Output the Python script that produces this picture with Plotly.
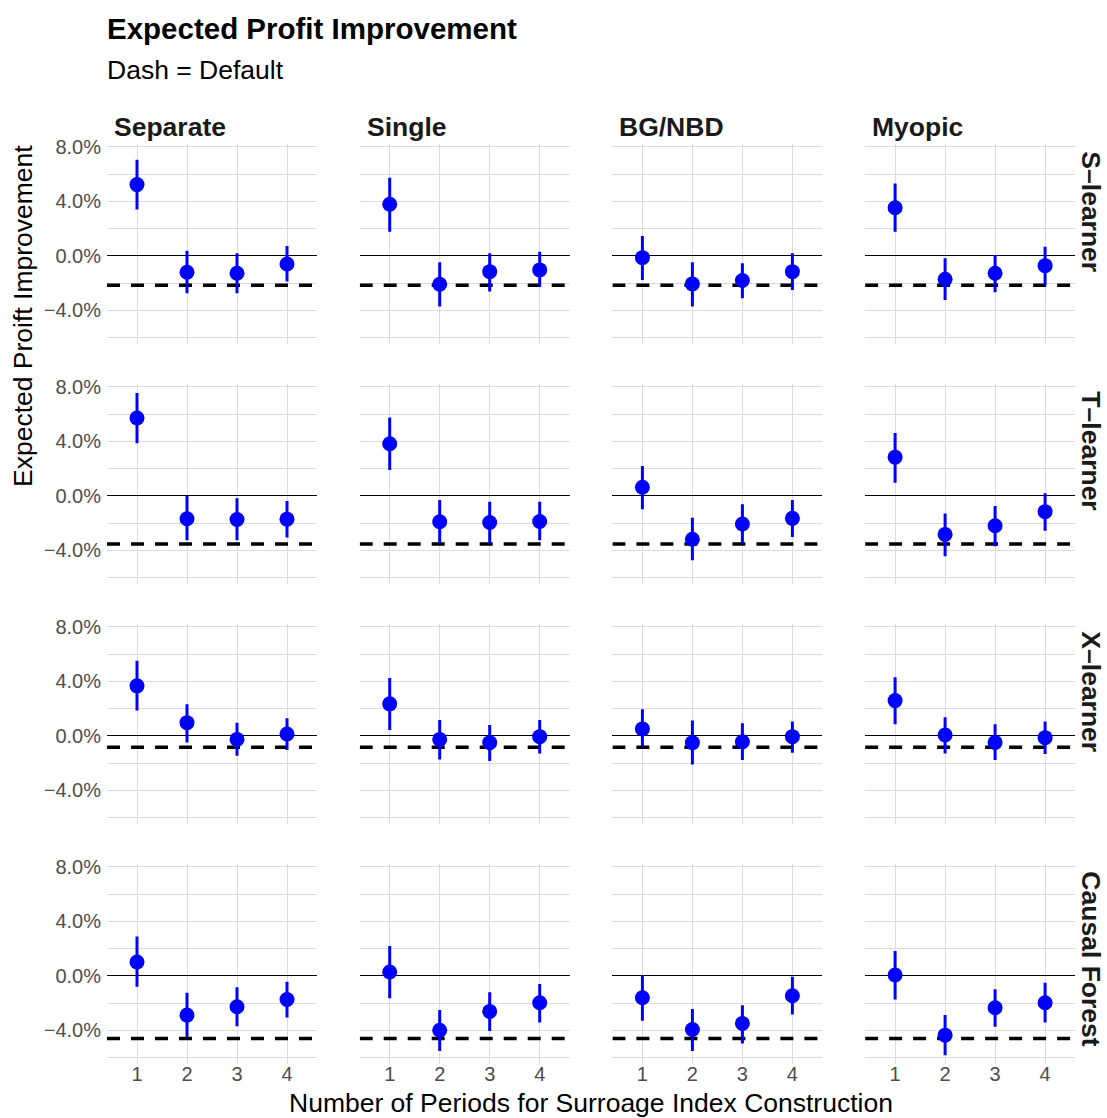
import plotly.graph_objects as go
from plotly.subplots import make_subplots

# ---- data (percent) ----
periods = [1, 2, 3, 4]
approaches = ["Separate", "Single", "BG/NBD", "Myopic"]
learners = ["S–learner", "T–learner", "X–learner", "Causal Forest"]

# point estimates, one list per approach (Separate, Single, BG/NBD, Myopic)
s_learner_est = [[5.24, -1.19, -1.27, -0.59], [3.80, -2.07, -1.15, -1.02],
                 [-0.12, -2.05, -1.80, -1.15], [3.54, -1.71, -1.27, -0.71]]
s_learner_lo = [[3.41, -2.73, -2.73, -1.88], [1.78, -3.71, -2.61, -2.24],
                [-1.76, -3.71, -3.10, -2.49], [1.78, -3.22, -2.66, -2.12]]
s_learner_hi = [[7.07, 0.39, 0.20, 0.73], [5.75, -0.46, 0.20, 0.32],
                [1.46, -0.46, -0.54, 0.20], [5.32, -0.17, 0.07, 0.68]]

t_learner_est = [[5.72, -1.67, -1.72, -1.70], [3.83, -1.89, -1.94, -1.87],
                 [0.64, -3.17, -2.06, -1.64], [2.85, -2.82, -2.18, -1.15]]
t_learner_lo = [[3.88, -3.24, -3.24, -3.04], [1.91, -3.44, -3.48, -3.24],
                [-0.98, -4.71, -3.48, -3.00], [0.98, -4.42, -3.68, -2.55]]
t_learner_hi = [[7.56, 0.00, -0.17, -0.37], [5.77, -0.29, -0.42, -0.42],
                [2.21, -1.60, -0.61, -0.29], [4.62, -1.28, -0.74, 0.20]]

x_learner_est = [[3.68, 0.98, -0.25, 0.15], [2.36, -0.25, -0.49, -0.05],
                 [0.52, -0.49, -0.42, -0.05], [2.60, 0.07, -0.47, -0.12]]
x_learner_lo = [[1.87, -0.47, -1.45, -1.03], [0.44, -1.72, -1.84, -1.28],
                [-0.79, -2.09, -1.77, -1.23], [0.86, -1.28, -1.77, -1.33]]
x_learner_hi = [[5.52, 2.33, 0.98, 1.30], [4.25, 1.18, 0.81, 1.18],
                [1.96, 1.13, 0.93, 1.06], [4.32, 1.37, 0.86, 1.06]]

causal_forest_est = [[1.03, -2.87, -2.26, -1.72], [0.29, -3.98, -2.60, -1.96],
                     [-1.60, -3.93, -3.48, -1.45], [0.07, -4.34, -2.33, -1.96]]
causal_forest_lo = [[-0.79, -4.47, -3.68, -3.04], [-1.64, -5.50, -4.03, -3.41],
                    [-3.29, -5.50, -4.96, -2.82], [-1.72, -5.82, -3.73, -3.41]]
causal_forest_hi = [[2.90, -1.23, -0.83, -0.42], [2.21, -2.50, -1.20, -0.59],
                    [0.07, -2.43, -2.14, -0.05], [1.84, -2.87, -0.98, -0.49]]

# default-policy improvement per learner (dashed reference)
default_improvement = [-2.15, -3.53, -0.83, -4.58]

y_tickvals = [-4, 0, 4, 8]
y_ticktext = ["−4.0%", "0.0%", "4.0%", "8.0%"]
y_minor = [-6, -2, 2, 6]

estimates = [s_learner_est, t_learner_est, x_learner_est, causal_forest_est]
lowers = [s_learner_lo, t_learner_lo, x_learner_lo, causal_forest_lo]
uppers = [s_learner_hi, t_learner_hi, x_learner_hi, causal_forest_hi]

# ---- layout geometry (pixels) ----
W, H = 1107, 1118
FONT = "Liberation Sans, Arial, sans-serif"
X_RANGE = [0.4, 4.6]
Y_LO, Y_HI = -6.49, 8.23
PX_PER_PCT = 13.625
PANEL_W = 210
COL_X0 = [107 + 252.7 * c for c in range(4)]
ROW_ZERO = [256 + 240 * r for r in range(4)]
GRID = "#DCDCDC"
BASE = 26.5


def px_x(x):
    return x / W


def px_y(y):
    return 1 - y / H


fig = make_subplots(rows=4, cols=4)

for r in range(4):
    top = ROW_ZERO[r] - Y_HI * PX_PER_PCT
    bot = ROW_ZERO[r] - Y_LO * PX_PER_PCT
    for c in range(4):
        idx = r * 4 + c + 1
        est = estimates[r][c]
        lo = lowers[r][c]
        hi = uppers[r][c]
        # dashed default line spanning the panel
        fig.add_trace(
            go.Scatter(
                x=X_RANGE, y=[default_improvement[r]] * 2, mode="lines",
                line=dict(color="black", width=3.5, dash="13px,11px"),
                showlegend=False, hoverinfo="skip",
            ),
            row=r + 1, col=c + 1,
        )
        fig.add_trace(
            go.Scatter(
                x=periods, y=est, mode="markers",
                marker=dict(size=15, color="#0000FF"),
                error_y=dict(type="data", symmetric=False,
                             array=[h - e for h, e in zip(hi, est)],
                             arrayminus=[e - l for e, l in zip(est, lo)],
                             color="#0000FF", thickness=3, width=0),
                showlegend=False, hoverinfo="skip",
            ),
            row=r + 1, col=c + 1,
        )
        xname = "xaxis" if idx == 1 else f"xaxis{idx}"
        yname = "yaxis" if idx == 1 else f"yaxis{idx}"
        x0 = COL_X0[c]
        fig.layout[xname].update(
            domain=[px_x(x0), px_x(x0 + PANEL_W)], range=X_RANGE,
            tickvals=periods, ticktext=[str(p) for p in periods],
            showticklabels=(r == 3), ticks="", showline=False, zeroline=False,
            showgrid=True, gridcolor=GRID, gridwidth=1, automargin=False,
            tickfont=dict(family=FONT, size=20, color="#4D4D4D"),
            ticklabelstandoff=-4,
        )
        fig.layout[yname].update(
            domain=[px_y(bot), px_y(top)], range=[Y_LO, Y_HI],
            tickvals=y_tickvals, ticktext=y_ticktext,
            showticklabels=(c == 0), ticks="", showline=False,
            zeroline=True, zerolinecolor="black", zerolinewidth=1.4,
            showgrid=True, gridcolor=GRID, gridwidth=1, automargin=False,
            minor=dict(tickvals=y_minor, showgrid=True, gridcolor=GRID, gridwidth=1),
            tickfont=dict(family=FONT, size=20, color="#4D4D4D"),
            ticklabelstandoff=5,
        )

annotations = []
# column strips
for c, name in enumerate(approaches):
    annotations.append(dict(
        text=f"<b>{name}</b>", x=px_x(COL_X0[c] + 5), y=px_y(127),
        xref="paper", yref="paper", xanchor="left", yanchor="middle",
        showarrow=False, font=dict(family=FONT, size=BASE, color="#1A1A1A")))
# row strips
for r, name in enumerate(learners):
    top = ROW_ZERO[r] - Y_HI * PX_PER_PCT
    annotations.append(dict(
        text=f"<b>{name}</b>", x=px_x(1091), y=px_y(top + 5),
        xref="paper", yref="paper", xanchor="center", yanchor="top",
        textangle=90, showarrow=False,
        font=dict(family=FONT, size=BASE, color="#1A1A1A")))
# titles
annotations.append(dict(
    text="<b>Expected Profit Improvement</b>", x=px_x(105), y=px_y(28),
    xref="paper", yref="paper", xanchor="left", yanchor="middle",
    showarrow=False, font=dict(family=FONT, size=29.5, color="black")))
annotations.append(dict(
    text="Dash = Default", x=px_x(105), y=px_y(70),
    xref="paper", yref="paper", xanchor="left", yanchor="middle",
    showarrow=False, font=dict(family=FONT, size=BASE, color="black")))
annotations.append(dict(
    text="Expected Proift Improvement", x=px_x(23), y=px_y(316),
    xref="paper", yref="paper", xanchor="center", yanchor="middle",
    textangle=-90, showarrow=False, font=dict(family=FONT, size=BASE, color="black")))
annotations.append(dict(
    text="Number of Periods for Surroage Index Construction", x=px_x(591), y=px_y(1103),
    xref="paper", yref="paper", xanchor="center", yanchor="middle",
    showarrow=False, font=dict(family=FONT, size=BASE, color="black")))

fig.update_layout(
    width=W, height=H, margin=dict(l=0, r=0, t=0, b=0),
    plot_bgcolor="white", paper_bgcolor="white",
    annotations=annotations, showlegend=False,
)

fig.write_html("out.html")
